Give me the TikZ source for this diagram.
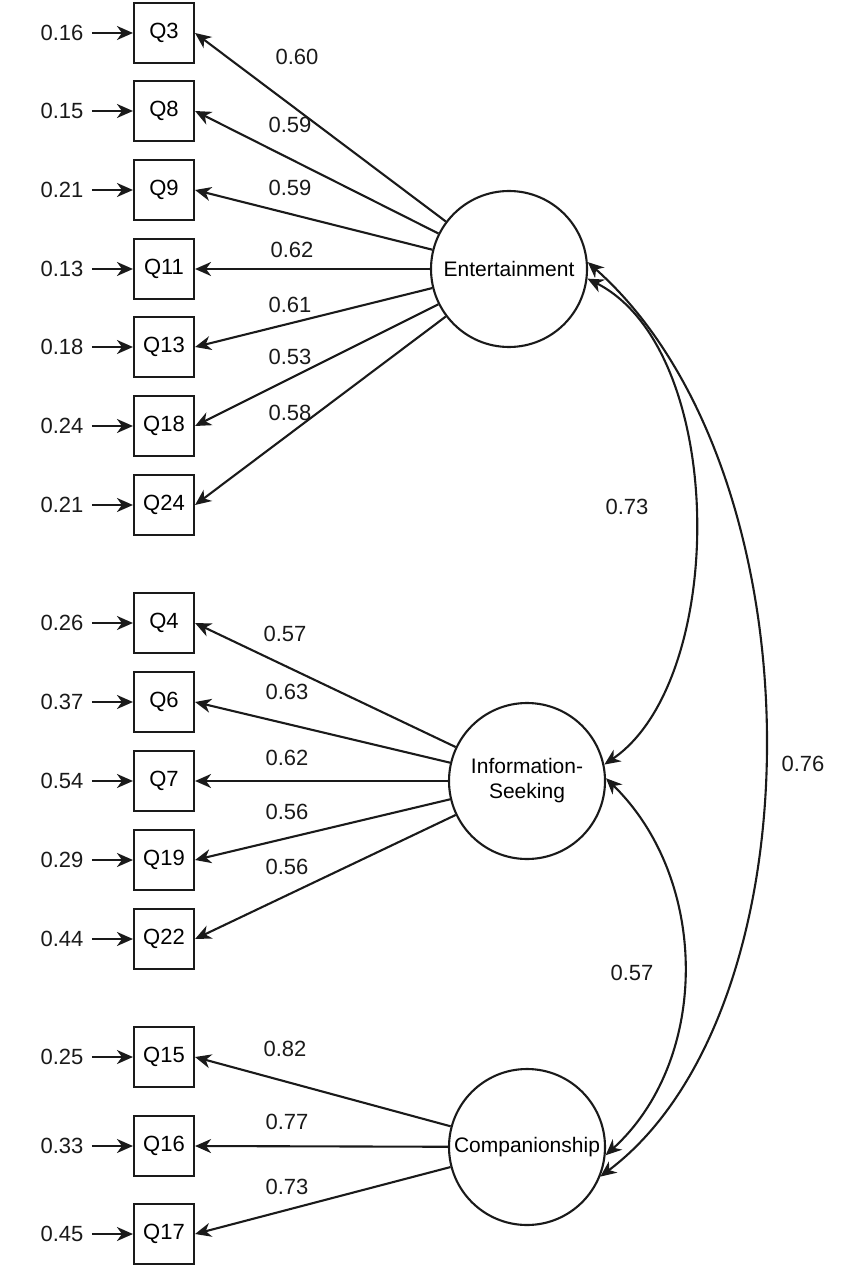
\documentclass[tikz,border=0pt]{standalone}
\usepackage{fontspec}
\setmainfont{Liberation Sans}
\usetikzlibrary{arrows.meta,positioning}
\definecolor{semink}{HTML}{1A1A1A}
\tikzset{
  itemBox/.style={draw=semink, line width=1.05pt, fill=white, minimum size=30pt, inner sep=0pt, font=\fontsize{11}{13}\selectfont},
  latentCircle/.style={draw=semink, line width=1.05pt, circle, fill=white, minimum size=78pt, inner sep=0pt, align=center, font=\fontsize{10.5}{12.5}\selectfont},
  pathArrow/.style={-{Stealth[length=8pt,width=7pt,inset=2.5pt]}, line width=1.05pt, draw=semink},
  covArrow/.style={{Stealth[length=8pt,width=7pt,inset=2.5pt]}-{Stealth[length=8pt,width=7pt,inset=2.5pt]}, line width=1.05pt, draw=semink},
  valLabel/.style={font=\fontsize{11}{13}\selectfont, text=semink, inner sep=4pt}
}
\begin{document}
\begin{tikzpicture}[x=0.5pt,y=-0.5pt]
  \useasboundingbox (0,0) rectangle (846,1272);
  % latent factors
  \node[latentCircle] (ent) at (509,269) {Entertainment};
  \node[latentCircle] (info) at (527,781) {Information-\\Seeking};
  \node[latentCircle] (comp) at (527,1147) {Companionship};
  % observed items and error terms
  \foreach \q/\y/\e in {3/33/0.16, 8/111/0.15, 9/190/0.21, 11/269/0.13, 13/347/0.18, 18/426/0.24, 24/505/0.21,
                        4/623/0.26, 6/702/0.37, 7/781/0.54, 19/860/0.29, 22/939/0.44,
                        15/1057/0.25, 16/1146/0.33, 17/1234/0.45} {
    \node[itemBox] (q\q) at (164,\y) {Q\q};
    \node[valLabel] (e\q) at (62,\y) {\e};
    \draw[pathArrow] (e\q) -- (q\q);
  }
  % factor loadings
  \foreach \f/\q/\lx/\ly/\v in {ent/3/297/57/0.60, ent/8/290/125/0.59, ent/9/290/188/0.59, ent/11/292/250/0.62,
                                ent/13/290/305/0.61, ent/18/290/357/0.53, ent/24/290/413/0.58,
                                info/4/285/634/0.57, info/6/287/692/0.63, info/7/287/758/0.62,
                                info/19/287/812/0.56, info/22/287/867/0.56,
                                comp/15/285/1049/0.82, comp/16/287/1122/0.77, comp/17/287/1187/0.73} {
    \draw[pathArrow] (\f) -- (q\q.east);
    \node[valLabel] (l\q) at (\lx,\ly) {\v};
  }
  % factor covariances
  \draw[covArrow] (ent.-7) .. controls (728,350) and (728,680) .. (info.12);
  \draw[covArrow] (info.2) .. controls (710,880) and (710,1060) .. (comp.-6);
  \draw[covArrow] (ent.5) .. controls (822,470) and (822,1010) .. (comp.-22);
  \node[valLabel] (c1) at (627,507) {0.73};
  \node[valLabel] (c2) at (632,973) {0.57};
  \node[valLabel] (c3) at (803,764) {0.76};
\end{tikzpicture}
\end{document}
